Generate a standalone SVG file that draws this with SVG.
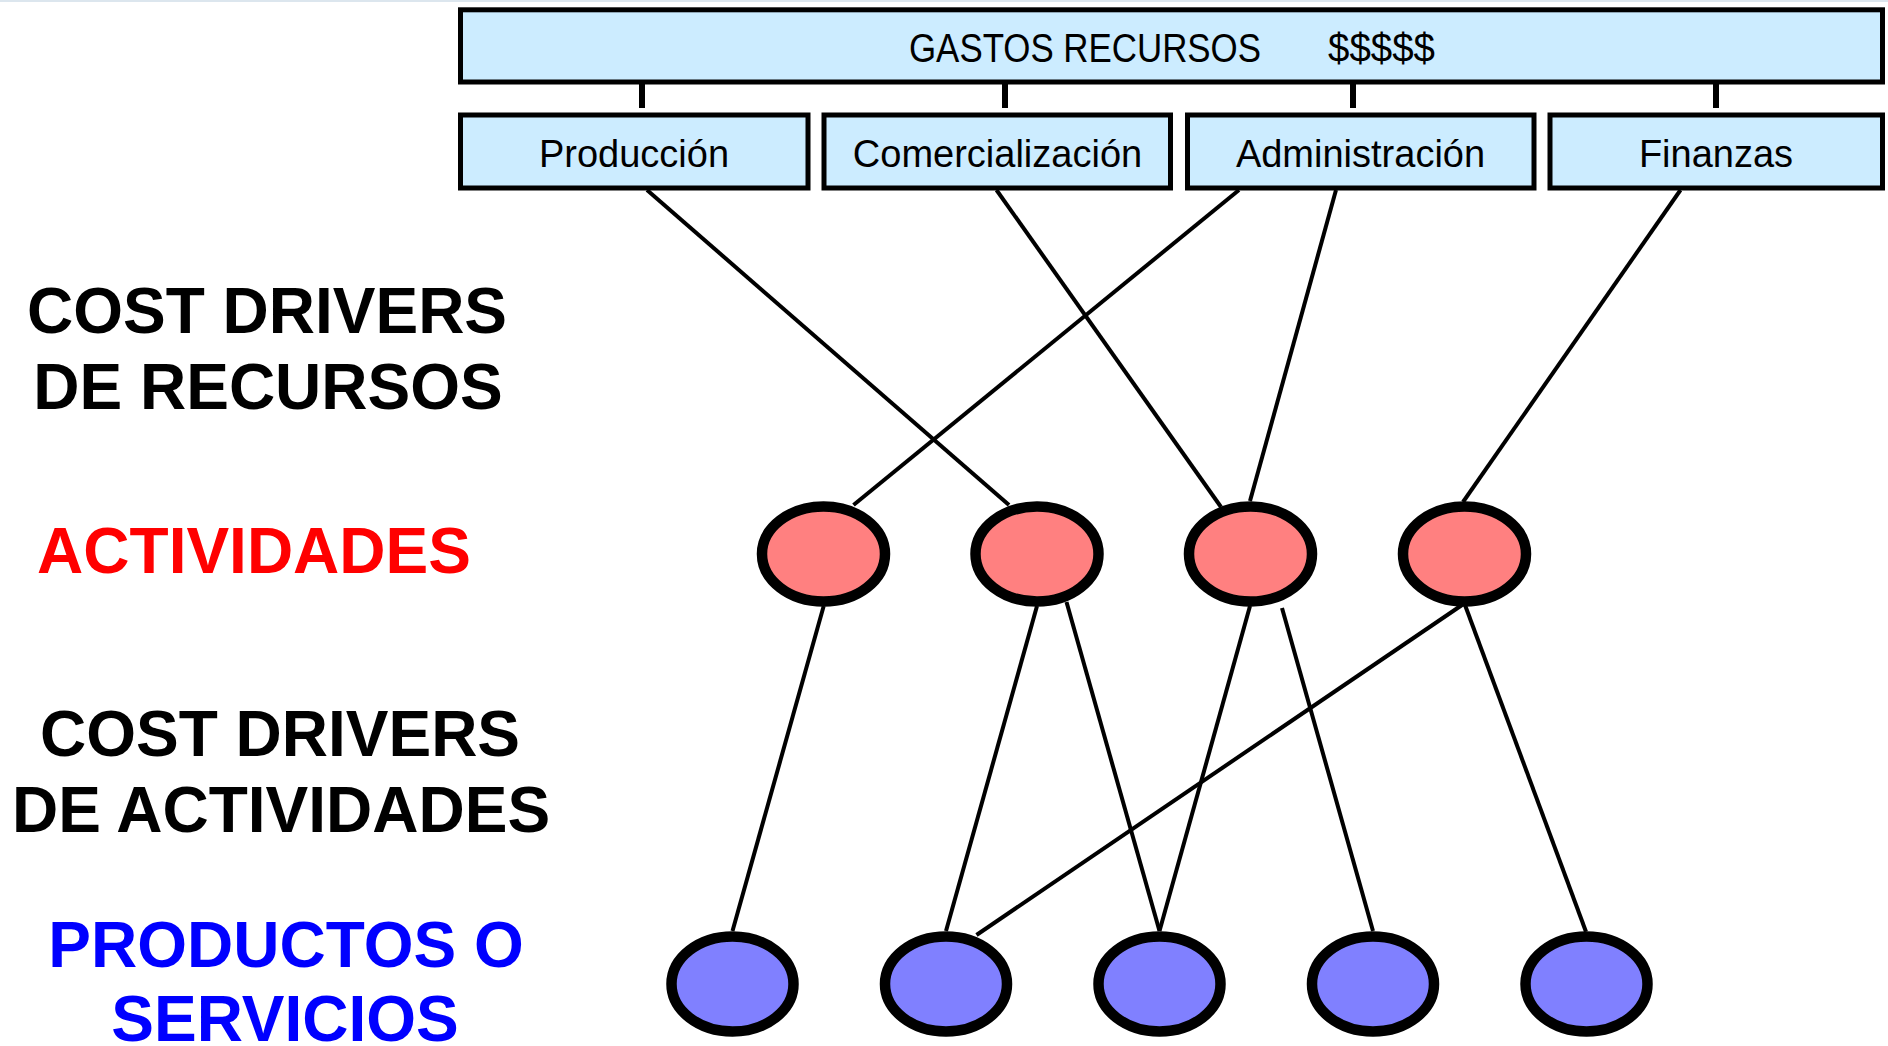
<svg xmlns="http://www.w3.org/2000/svg" width="1888" height="1046" viewBox="0 0 1888 1046">
<style>
.box{fill:#CCECFF;stroke:#000;stroke-width:5}
.bt{font-family:"Liberation Sans",Arial,sans-serif;font-size:38px;fill:#000;text-anchor:middle}
.act{fill:#FF8080;stroke:#000;stroke-width:10.5}
.prod{fill:#8080FF;stroke:#000;stroke-width:10.5}
.lab{font-family:"Liberation Sans",Arial,sans-serif;font-weight:bold;font-size:64px;text-anchor:middle}
.ln{stroke:#000;stroke-width:4;fill:none}
.tick{stroke:#000;stroke-width:6}
</style>
<rect x="0" y="0" width="1888" height="1046" fill="#fff"/>
<rect x="0" y="0" width="1888" height="2" fill="#DCE6EE"/>

<g id="labels">
  <text class="lab" x="267" y="333" fill="#000">COST DRIVERS</text>
  <text class="lab" x="268" y="409" fill="#000">DE RECURSOS</text>
  <text class="lab" x="254" y="573" fill="#FF0000">ACTIVIDADES</text>
  <text class="lab" x="280" y="756" fill="#000">COST DRIVERS</text>
  <text class="lab" x="281" y="832" fill="#000">DE ACTIVIDADES</text>
  <text class="lab" x="286" y="967" fill="#0000FF">PRODUCTOS O</text>
  <text class="lab" x="285" y="1041" fill="#0000FF">SERVICIOS</text>
</g>

<g id="connectors">
  <line class="tick" x1="642" y1="82" x2="642" y2="108"/>
  <line class="tick" x1="1005" y1="82" x2="1005" y2="108"/>
  <line class="tick" x1="1353" y1="82" x2="1353" y2="108"/>
  <line class="tick" x1="1716" y1="82" x2="1716" y2="108"/>
  <line class="ln" x1="647" y1="190" x2="1009" y2="505"/>
  <line class="ln" x1="996.5" y1="190" x2="1221" y2="507"/>
  <line class="ln" x1="1239" y1="190" x2="853.5" y2="505"/>
  <line class="ln" x1="1336" y1="190" x2="1250" y2="501"/>
  <line class="ln" x1="1680.5" y1="190" x2="1463" y2="502"/>
  <line class="ln" x1="823.7" y1="606" x2="732.5" y2="931"/>
  <line class="ln" x1="1037" y1="606" x2="946" y2="931"/>
  <line class="ln" x1="1066.5" y1="602" x2="1159.5" y2="931"/>
  <line class="ln" x1="1250" y1="606" x2="1159.5" y2="931"/>
  <line class="ln" x1="1282" y1="608" x2="1373" y2="931"/>
  <line class="ln" x1="1462" y1="605" x2="976.5" y2="935"/>
  <line class="ln" x1="1465" y1="605" x2="1586" y2="931.7"/>
</g>

<g id="gastos">
  <rect class="box" x="460.5" y="9.8" width="1422" height="72.2"/>
  <text x="909" y="62" font-family="'Liberation Sans',Arial,sans-serif" font-size="40" textLength="352" lengthAdjust="spacingAndGlyphs">GASTOS RECURSOS</text>
  <text x="1328" y="62" font-family="'Liberation Sans',Arial,sans-serif" font-size="40" textLength="107" lengthAdjust="spacingAndGlyphs">$$$$$</text>
</g>
<g id="produccion">
  <rect class="box" x="460.5" y="115" width="347.5" height="73"/>
  <text class="bt" x="634" y="167">Producción</text>
</g>
<g id="comercializacion">
  <rect class="box" x="824" y="115" width="346.5" height="73"/>
  <text class="bt" x="997.5" y="167">Comercialización</text>
</g>
<g id="administracion">
  <rect class="box" x="1187.5" y="115" width="346.5" height="73"/>
  <text class="bt" x="1360.5" y="167">Administración</text>
</g>
<g id="finanzas">
  <rect class="box" x="1550" y="115" width="332.5" height="73"/>
  <text class="bt" x="1716" y="167">Finanzas</text>
</g>

<g id="actividad1"><ellipse class="act" cx="823.5" cy="554" rx="61.5" ry="47.5"/></g>
<g id="actividad2"><ellipse class="act" cx="1037" cy="554" rx="61.5" ry="47.5"/></g>
<g id="actividad3"><ellipse class="act" cx="1250.5" cy="554" rx="61.5" ry="47.5"/></g>
<g id="actividad4"><ellipse class="act" cx="1464.5" cy="554" rx="61.5" ry="47.5"/></g>

<g id="producto1"><ellipse class="prod" cx="732.5" cy="984" rx="61" ry="47.5"/></g>
<g id="producto2"><ellipse class="prod" cx="946" cy="984" rx="61" ry="47.5"/></g>
<g id="producto3"><ellipse class="prod" cx="1159.5" cy="984" rx="61" ry="47.5"/></g>
<g id="producto4"><ellipse class="prod" cx="1373" cy="984" rx="61" ry="47.5"/></g>
<g id="producto5"><ellipse class="prod" cx="1586.5" cy="984" rx="61" ry="47.5"/></g>
</svg>
